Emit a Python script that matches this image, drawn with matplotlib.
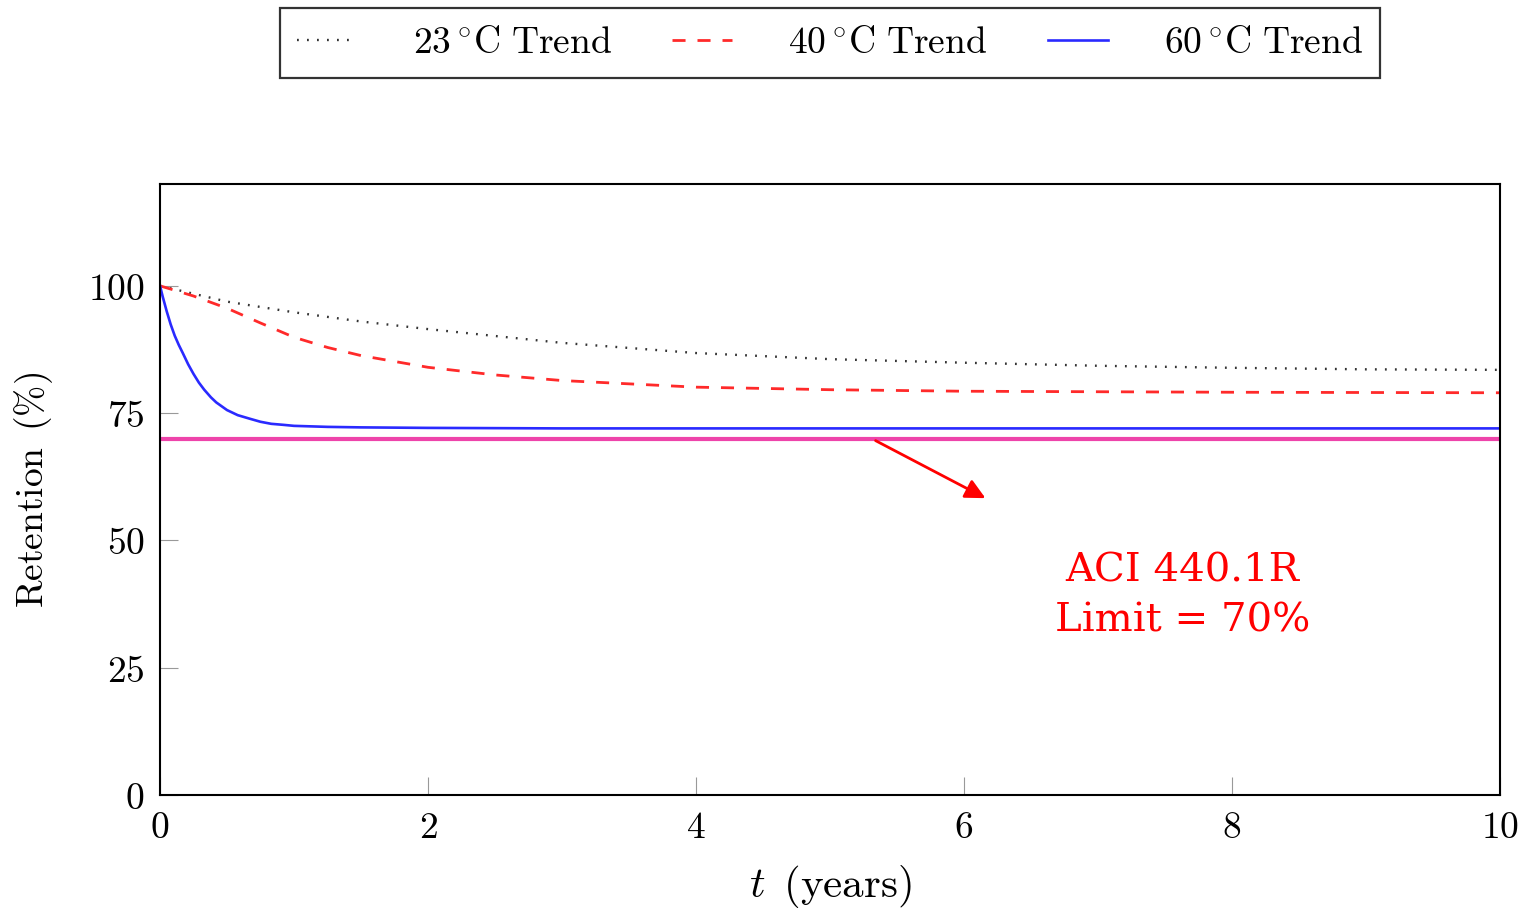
"""Retention vs. time with ACI 440.1R limit."""

import matplotlib

matplotlib.use("Agg")
from matplotlib import pyplot as plt
from matplotlib.ticker import FuncFormatter

plt.rcParams["mathtext.fontset"] = "cm"
plt.rcParams["font.family"] = ["DejaVu Serif"]
plt.rcParams["lines.scale_dashes"] = False

# data
t_23 = [0, 0.5, 1, 1.5, 2, 3, 4, 5, 6, 7, 8, 9, 10]
ret_23 = [100, 96.9, 94.8, 93.0, 91.5, 88.8, 86.8, 85.6, 84.9, 84.3, 83.9, 83.6, 83.5]

t_40 = [0, 0.25, 0.5, 0.75, 1, 1.25, 1.5, 2, 2.5, 3, 4, 5, 6, 8, 10]
ret_40 = [100, 98.0, 95.6, 92.7, 89.9, 87.9, 86.3, 84.0, 82.5, 81.4, 80.1, 79.6, 79.3, 79.1, 79.0]

t_60 = [0, 0.02, 0.05, 0.08, 0.11, 0.14, 0.17, 0.21, 0.25, 0.29, 0.33, 0.38,
        0.42, 0.5, 0.58, 0.67, 0.75, 0.83, 0.92, 1, 1.25, 1.5, 2, 3, 5, 10]
ret_60 = [100, 97.9, 95.0, 92.4, 90.2, 88.4, 86.8, 84.6, 82.7, 81.0, 79.6, 78.1,
          77.1, 75.6, 74.6, 73.9, 73.3, 72.9, 72.7, 72.5, 72.3, 72.2, 72.1, 72.0, 72.0, 72.0]

limit = 70
x_ticks = [0, 2, 4, 6, 8, 10]
y_ticks = [0, 25, 50, 75, 100]
labels = [r"$23\,^{\circ}\mathrm{C\ Trend}$",
          r"$40\,^{\circ}\mathrm{C\ Trend}$",
          r"$60\,^{\circ}\mathrm{C\ Trend}$"]

fig = plt.figure(figsize=(15.3, 9.24), dpi=100)
ax = fig.add_axes([160 / 1530, 129 / 924, 1340 / 1530, 611 / 924])

(l23,) = ax.plot(t_23, ret_23, color="#333333", lw=1.7, dashes=(1.3, 5.9))
(l40,) = ax.plot(t_40, ret_40, color="#ff2a2a", lw=2.0, dashes=(9.4, 8.6))
(l60,) = ax.plot(t_60, ret_60, color="#2a2aff", lw=1.9)
ax.axhline(limit, color="#ee44aa", lw=3.0, zorder=1)

ax.annotate("", xy=(6.16, 58.3), xytext=(5.34, 69.6),
            arrowprops=dict(arrowstyle="-|>", color="red", lw=2.0,
                            mutation_scale=30, shrinkA=0, shrinkB=0))
ax.text(7.63, 39.0, "ACI 440.1R\nLimit = 70%", color="red", fontsize=29,
        family="DejaVu Serif", ha="center", va="center", linespacing=1.45)

ax.set_xlim(0, 10)
ax.set_ylim(0, 120)
ax.set_xticks(x_ticks)
ax.set_yticks(y_ticks)
fmt = FuncFormatter(lambda v, _: f"${v:g}$")
ax.xaxis.set_major_formatter(fmt)
ax.yaxis.set_major_formatter(fmt)
ax.tick_params(direction="in", length=13, width=0.8, color="#999999",
               labelsize=27, pad=11)
for side in ax.spines.values():
    side.set_linewidth(1.5)

ax.set_xlabel(r"$t\ \,\mathrm{(years)}$", fontsize=31, labelpad=12)
ax.set_ylabel(r"$\mathrm{Retention\ \,(\%)}$", fontsize=27, labelpad=24)

leg = fig.legend([l23, l40, l60], labels, loc="upper center",
                 bbox_to_anchor=(830 / 1530, 1 - 8 / 924), ncol=3,
                 fontsize=27, frameon=True, fancybox=False, edgecolor="black",
                 borderaxespad=0, borderpad=0.45, handlelength=1.6,
                 handletextpad=1.5, columnspacing=1.6)
leg.get_frame().set_linewidth(1.6)

fig.savefig("out.png", dpi=100)
